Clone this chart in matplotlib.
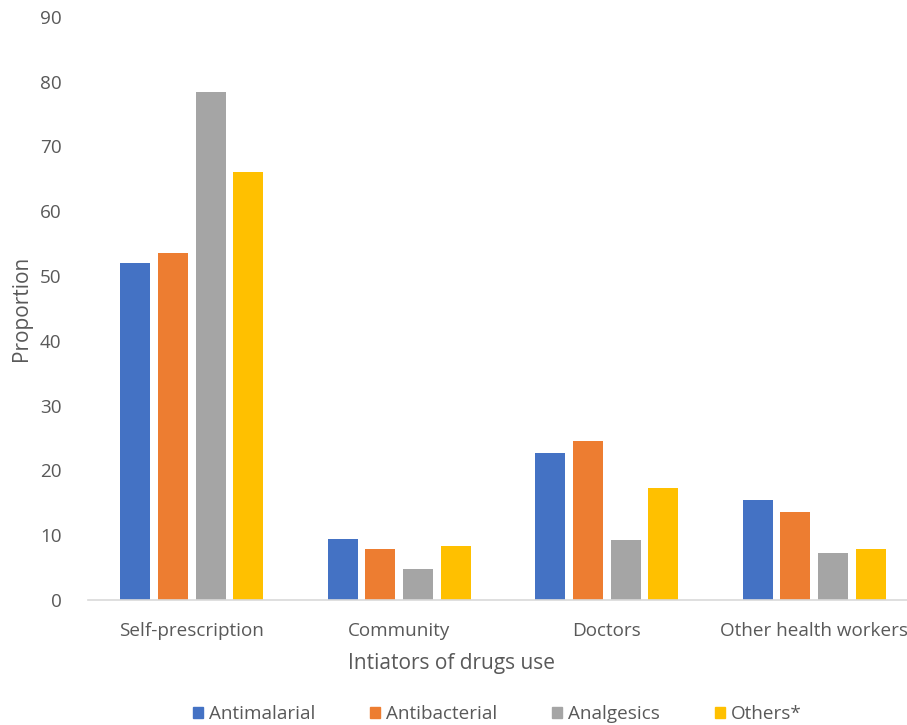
import matplotlib.pyplot as plt
import matplotlib.patches as patches
import numpy as np

plt.rcParams['font.family'] = ['Open Sans', 'DejaVu Sans']

# data
categories = ['Self-prescription', 'Community', 'Doctors', 'Other health workers']
series_names = ['Antimalarial', 'Antibacterial', 'Analgesics', 'Others*']
antimalarial = [52.0, 9.4, 22.7, 15.5]
antibacterial = [53.6, 7.9, 24.5, 13.6]
analgesics = [78.4, 4.8, 9.3, 7.2]
others = [66.1, 8.4, 17.3, 7.8]
y_ticks = [0, 10, 20, 30, 40, 50, 60, 70, 80, 90]

colors = ['#4472C4', '#ED7D31', '#A5A5A5', '#FFC000']
text_col = '#595959'

fig = plt.figure(figsize=(9.07, 7.25), dpi=100)
ax = fig.add_axes([88/907, 125/725, 819/907, 583.2/725])

x = np.arange(len(categories))
pitch = 0.182
width = 0.145
all_series = [antimalarial, antibacterial, analgesics, others]
for i, vals in enumerate(all_series):
    ax.bar(x + (i - 1.5) * pitch, vals, width, color=colors[i], zorder=2)

ax.set_xlim(-0.5, 3.447)
ax.set_ylim(0, 90)
ax.set_yticks(y_ticks)
ax.set_xticks(x)
ax.set_xticklabels(categories)
ax.tick_params(axis='both', length=0, labelsize=13.6, colors=text_col)
ax.tick_params(axis='y', pad=19)
ax.tick_params(axis='x', pad=15.5)

for s in ['top', 'right', 'left']:
    ax.spines[s].set_visible(False)
ax.spines['bottom'].set_color('#D9D9D9')
ax.spines['bottom'].set_linewidth(1.2)

fig.text(21/907, 1 - 308/725, 'Proportion', rotation=90, ha='center', va='center',
         fontsize=15, color=text_col)
fig.text(451/907, 1 - 663/725, 'Intiators of drugs use', ha='center', va='center',
         fontsize=15, color=text_col)

handles = [patches.Rectangle((0, 0), 1, 1, color=c) for c in colors]
fig.legend(handles, series_names, loc='center', bbox_to_anchor=(497/907, 1 - 714/725),
           ncol=4, frameon=False, fontsize=13.6, handlelength=0.55, handleheight=0.55,
           handletextpad=0.3, columnspacing=2.9, labelcolor=text_col)

plt.savefig('out.png', dpi=100)
plt.close()
